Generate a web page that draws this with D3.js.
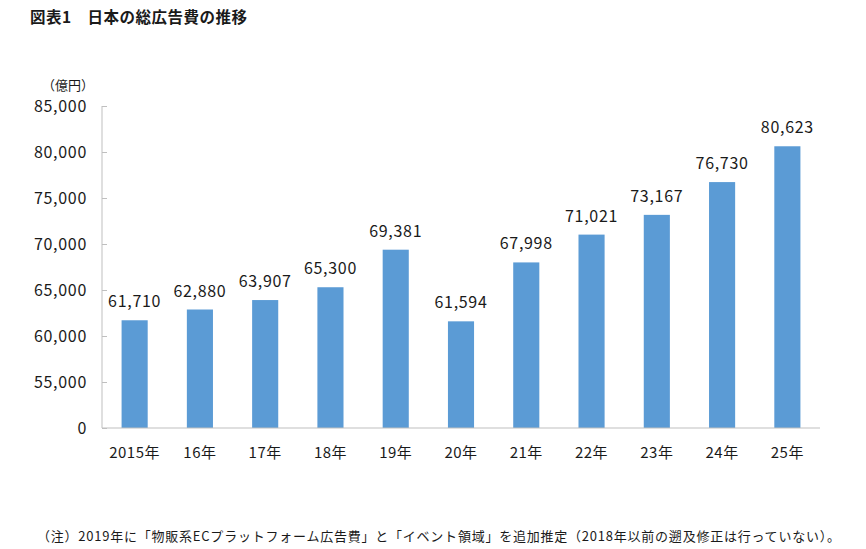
<!DOCTYPE html>
<html>
<head>
<meta charset="utf-8">
<script src="https://cdn.jsdelivr.net/npm/d3@7"></script>
<style>
  body { margin: 0; background: #fff; }
  text { font-family: "Noto Sans CJK JP", "Noto Sans", sans-serif; fill: #1a1a1a; }
</style>
</head>
<body>
<div id="chart"></div>
<script>
let years = ["2015年", "16年", "17年", "18年", "19年", "20年", "21年", "22年", "23年", "24年", "25年"];
let values = [61710, 62880, 63907, 65300, 69381, 61594, 67998, 71021, 73167, 76730, 80623];
let tickValues = [50000, 55000, 60000, 65000, 70000, 75000, 80000, 85000];
let tickLabels = ["0", "55,000", "60,000", "65,000", "70,000", "75,000", "80,000", "85,000"];

let width = 866;
let height = 549;
let margin = {top: 106, bottom: 121, left: 102, right: 46};

let svg = d3.select("#chart").append("svg")
  .attr("width", width)
  .attr("height", height);

// title
svg.append("text")
  .attr("x", 30)
  .attr("y", 23)
  .attr("font-size", 15.5)
  .attr("font-weight", "bold")
  .attr("textLength", 217)
  .text("図表1　日本の総広告費の推移");

let x = d3.scaleBand()
  .domain(years)
  .range([margin.left, width - margin.right])
  .paddingInner(0.6)
  .paddingOuter(0.3);

// broken axis: the "0" label sits where 50,000 would be
let y = d3.scaleLinear()
  .domain([50000, 85000])
  .range([height - margin.bottom, margin.top]);

let yAxis = d3.axisRight(y)
  .tickValues(tickValues)
  .tickSize(5)
  .tickFormat((d, i) => tickLabels[i]);

let yg = svg.append("g")
  .attr("transform", `translate(${margin.left},0)`)
  .call(yAxis);
yg.select(".domain").attr("stroke", "#bfbfbf").attr("d", `M0,${y(85000)}V${y(50000)}`);
yg.selectAll(".tick line").attr("stroke", "#bfbfbf");
yg.selectAll(".tick text")
  .attr("x", -15)
  .attr("text-anchor", "end")
  .attr("font-size", 16)
  .attr("letter-spacing", 0.7)
  .attr("font-family", "'Noto Sans CJK JP', sans-serif")
  .attr("fill", "#1a1a1a");

svg.append("text")
  .attr("x", 94)
  .attr("y", 90)
  .attr("text-anchor", "end")
  .attr("font-size", 13)
  .text("（億円）");

// bars
svg.selectAll("rect.bar")
  .data(values)
  .enter()
  .append("rect")
  .attr("class", "bar")
  .attr("x", (d, i) => x(years[i]))
  .attr("y", d => y(d))
  .attr("width", x.bandwidth())
  .attr("height", d => y(50000) - y(d))
  .attr("fill", "#5b9bd5");

// x axis baseline
svg.append("line")
  .attr("x1", margin.left)
  .attr("x2", width - margin.right)
  .attr("y1", y(50000))
  .attr("y2", y(50000))
  .attr("stroke", "#bfbfbf");

// value labels
svg.selectAll("text.val")
  .data(values)
  .enter()
  .append("text")
  .attr("class", "val")
  .attr("x", (d, i) => x(years[i]) + x.bandwidth() / 2)
  .attr("y", d => y(d) - 13)
  .attr("text-anchor", "middle")
  .attr("font-size", 16)
  .attr("letter-spacing", 0.7)
  .text(d => d3.format(",")(d));

// category labels
svg.selectAll("text.cat")
  .data(years)
  .enter()
  .append("text")
  .attr("class", "cat")
  .attr("x", d => x(d) + x.bandwidth() / 2)
  .attr("y", y(50000) + 30)
  .attr("text-anchor", "middle")
  .attr("font-size", 15)
  .attr("letter-spacing", 0.5)
  .text(d => d);

// footnote
svg.append("text")
  .attr("x", 37)
  .attr("y", 541)
  .attr("font-size", 13)
  .attr("textLength", 803)
  .text("（注）2019年に「物販系ECプラットフォーム広告費」と「イベント領域」を追加推定（2018年以前の遡及修正は行っていない）。");
</script>
</body>
</html>
